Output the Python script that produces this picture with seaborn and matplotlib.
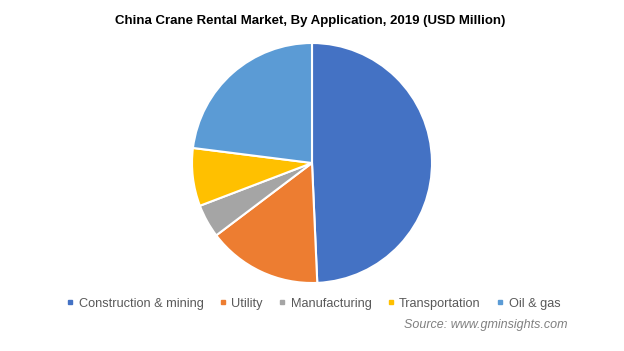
import matplotlib
matplotlib.use("Agg")
import matplotlib.pyplot as plt
from matplotlib.lines import Line2D
import seaborn as sns

categories = ["Construction & mining", "Utility", "Manufacturing", "Transportation", "Oil & gas"]
shares = [49.3, 15.4, 4.5, 7.8, 23.0]
colors = ["#4472C4", "#ED7D31", "#A5A5A5", "#FFC000", "#5B9BD5"]
title = "China Crane Rental Market, By Application, 2019 (USD Million)"
source = "Source: www.gminsights.com"

sns.set_theme(style="white")
plt.rcParams['font.family'] = ['Liberation Sans', 'DejaVu Sans']

fig = plt.figure(figsize=(6.24, 3.51), dpi=100)
ax = fig.add_axes([192/624, 68/351, 240/624, 240/351])
ax.pie(shares, colors=colors, startangle=90, counterclock=False,
       wedgeprops=dict(edgecolor="white", linewidth=1.5))
ax.set_xlim(-1, 1)
ax.set_ylim(-1, 1)
ax.set_aspect("equal")

fig.text(310/624, 1 - 21/351, title, ha="center", va="center",
         fontsize=9.5, fontweight="bold", color="black")

handles = [Line2D([0], [0], marker="s", linestyle="", markersize=3.2,
                  markerfacecolor=c, markeredgecolor=c) for c in colors]
fig.legend(handles, categories, loc="center", bbox_to_anchor=(314/624, 1 - 303.5/351),
           ncol=5, frameon=False, fontsize=9.2, labelcolor="#595959",
           handlelength=0.4, handletextpad=0.45, columnspacing=1.32,
           borderpad=0, borderaxespad=0)

fig.text(568/624, 1 - 325/351, source, ha="right", va="center",
         fontsize=9.0, fontstyle="italic", color="#808080")

fig.savefig("out.png", dpi=100)
